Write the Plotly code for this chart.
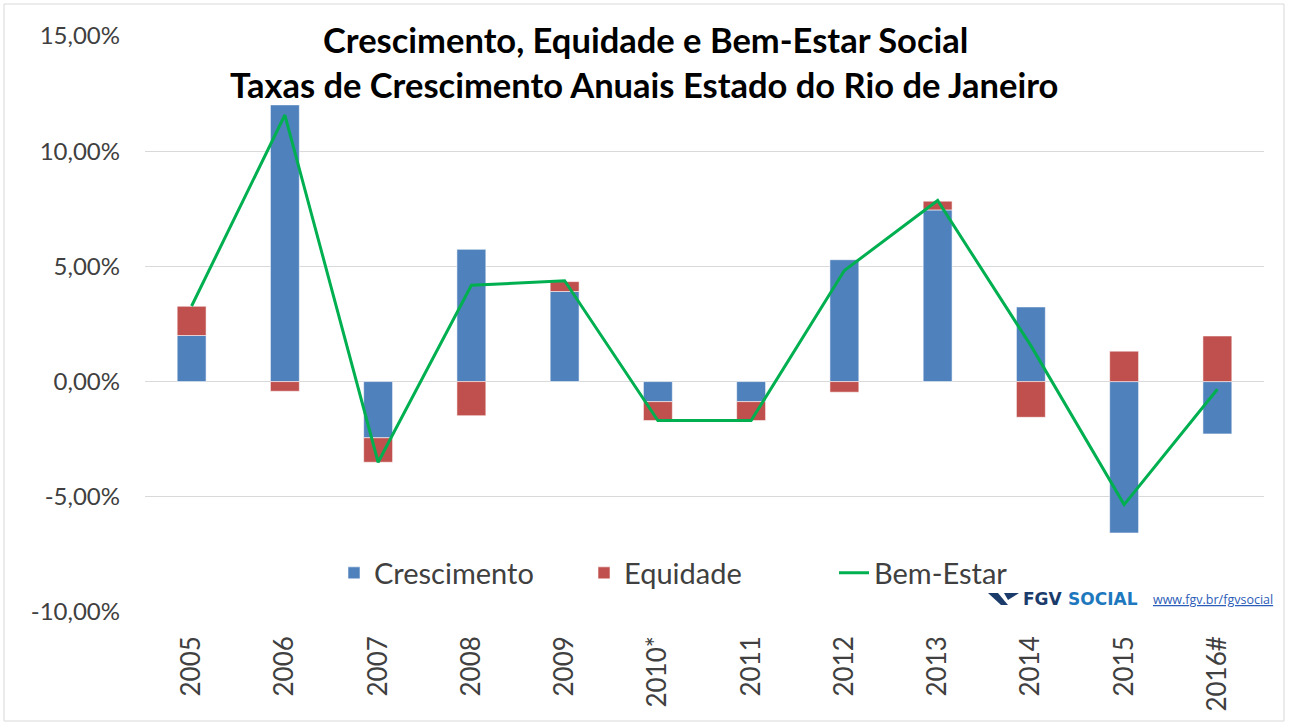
import plotly.graph_objects as go

anos = ["2005", "2006", "2007", "2008", "2009", "2010*", "2011", "2012", "2013", "2014", "2015", "2016#"]
crescimento = [2.00, 12.01, -2.44, 5.74, 3.91, -0.87, -0.87, 5.29, 7.45, 3.24, -6.57, -2.27]
equidade = [1.27, -0.42, -1.06, -1.48, 0.43, -0.82, -0.82, -0.46, 0.38, -1.55, 1.32, 1.98]
bem_estar = [3.28, 11.57, -3.50, 4.18, 4.38, -1.69, -1.69, 4.82, 7.86, 1.56, -5.34, -0.33]
y_ticks = [-10, -5, 0, 5, 10, 15]
y_tick_labels = ["-10,00%", "-5,00%", "0,00%", "5,00%", "10,00%", "15,00%"]

W, H = 1291, 724
L, R, T, B = 145, 27, 36, 112
pw, ph = W - L - R, H - T - B


def px(x):
    return (x - L) / pw


def py(y):
    return (H - B - y) / ph


FONT = "Lato"
TXT = "#404040"

fig = go.Figure()
fig.add_trace(go.Bar(x=anos, y=crescimento, name="Crescimento",
                     marker=dict(color="#4F81BD", line=dict(color="rgba(255,255,255,0.55)", width=1))))
fig.add_trace(go.Bar(x=anos, y=equidade, name="Equidade",
                     marker=dict(color="#C0504D", line=dict(color="rgba(255,255,255,0.55)", width=1))))
fig.add_trace(go.Scatter(x=anos, y=bem_estar, name="Bem-Estar", mode="lines",
                         line=dict(color="#00B050", width=3)))

fig.update_layout(
    width=W, height=H,
    margin=dict(l=L, r=R, t=T, b=B, autoexpand=False),
    paper_bgcolor="white", plot_bgcolor="white",
    barmode="relative", bargap=0.69,
    font=dict(family=FONT, color=TXT),
    showlegend=True,
    legend=dict(orientation="h", x=px(334), xanchor="left", y=py(573), yanchor="middle",
                font=dict(size=29, color=TXT, family=FONT), bgcolor="rgba(0,0,0,0)",
                entrywidth=205, itemwidth=30, traceorder="normal"),
    xaxis=dict(type="category", tickangle=-90, tickfont=dict(size=26, color=TXT),
               showgrid=False, showline=False, zeroline=False, ticks="",
               ticklabelstandoff=18, range=[-0.5, 11.5]),
    yaxis=dict(range=[-10, 15], tickmode="array", tickvals=y_ticks, ticktext=y_tick_labels,
               tickfont=dict(size=24, color=TXT), showgrid=True, gridcolor="#D9D9D9",
               gridwidth=1, zeroline=True, zerolinecolor="#D9D9D9", zerolinewidth=1,
               showline=False, ticks="", ticklabelstandoff=24),
)

# Title (two lines)
fig.add_annotation(text="<b>Crescimento, Equidade e Bem-Estar Social</b>", xref="paper", yref="paper",
                   x=px(645), y=py(40), xanchor="center", yanchor="middle", showarrow=False,
                   font=dict(size=34.5, color="black", family=FONT), bgcolor="white", borderpad=0)
fig.add_annotation(text="<b>Taxas de Crescimento Anuais Estado do Rio de Janeiro</b>", xref="paper", yref="paper",
                   x=px(644), y=py(84), xanchor="center", yanchor="middle", showarrow=False,
                   font=dict(size=34.5, color="black", family=FONT))

# FGV Social logo
fig.add_annotation(text="<b>FGV</b>", xref="paper", yref="paper", x=px(1021), y=py(599),
                   xanchor="left", yanchor="middle", showarrow=False,
                   font=dict(size=17, color="#1B3C6B", family="DejaVu Sans"))
fig.add_annotation(text="<b>SOCIAL</b>", xref="paper", yref="paper", x=px(1066), y=py(599),
                   xanchor="left", yanchor="middle", showarrow=False,
                   font=dict(size=17, color="#1E78BE", family="DejaVu Sans"))
fig.add_annotation(text="<u>www.fgv.br/fgvsocial</u>", xref="paper", yref="paper", x=px(1151), y=py(599),
                   xanchor="left", yanchor="middle", showarrow=False,
                   font=dict(size=12.5, color="#2B5CB8", family="Open Sans"))


def path(points):
    return "M " + " L ".join(f"{px(a):.5f},{py(b):.5f}" for a, b in points) + " Z"


fig.add_shape(type="path", xref="paper", yref="paper", line=dict(width=0), fillcolor="#1B3C6B",
              path=path([(988, 593), (998, 593), (1008, 605), (1001, 605)]))
fig.add_shape(type="path", xref="paper", yref="paper", line=dict(width=0), fillcolor="#1B3C6B",
              path=path([(1004, 593), (1019, 593), (1008, 600)]))

# outer chart border
fig.add_shape(type="rect", xref="paper", yref="paper", x0=px(4), x1=px(1284), y0=py(721), y1=py(4),
              line=dict(color="#D9D9D9", width=1), fillcolor="rgba(0,0,0,0)", layer="below")

fig.write_html("out.html", config={"displayModeBar": False},
               post_script="document.body.style.margin='0px';")
